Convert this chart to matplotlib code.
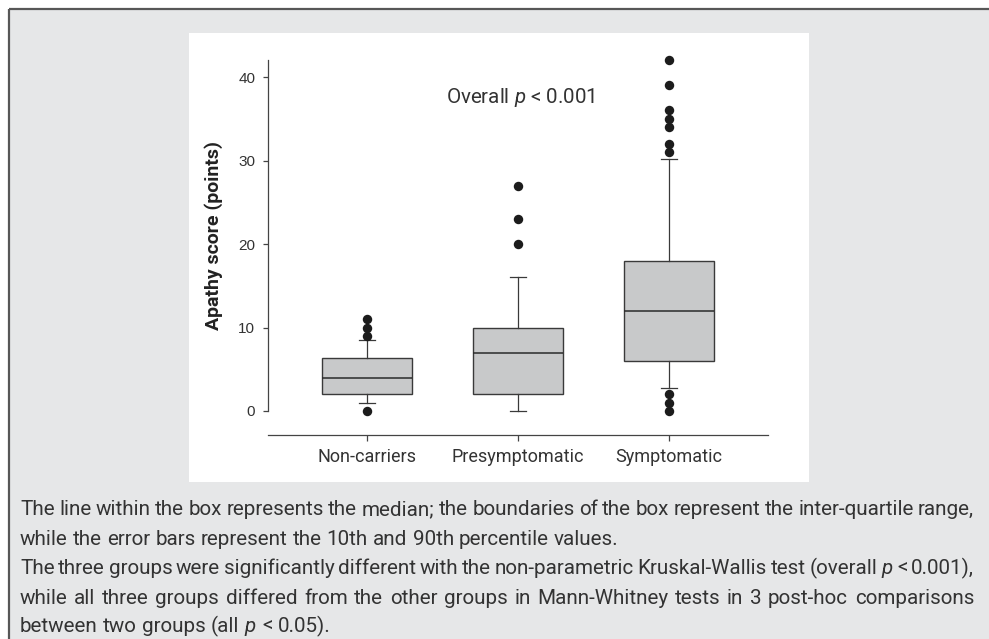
import matplotlib.pyplot as plt
from matplotlib.lines import Line2D
from matplotlib.patches import Rectangle

W, H = 989, 639
DPI = 100

GROUPS = ["Non-carriers", "Presymptomatic", "Symptomatic"]
Q1 = [2.0, 2.0, 6.0]
MEDIAN = [4.0, 7.0, 12.0]
Q3 = [6.3, 10.0, 18.0]
P10 = [1.0, 0.0, 2.8]
P90 = [8.5, 16.0, 30.2]
OUTLIERS = [
    [0, 9, 10, 11],
    [20, 23, 27],
    [0, 1, 2, 31, 32, 34, 35, 36, 39, 42],
]
YTICKS = [0, 10, 20, 30, 40]

CAPTION = [
    ("The line within the box represents the median; the boundaries of the box represent the inter-quartile range,", True),
    ("while the error bars represent the 10th and 90th percentile values.", False),
    ("The three groups were significantly different with the non-parametric Kruskal-Wallis test (overall $p$ < 0.001),", True),
    ("while all three groups differed from the other groups in Mann-Whitney tests in 3 post-hoc comparisons", True),
    ("between two groups (all $p$ < 0.05).", False),
]

plt.rcParams["font.family"] = ["Roboto", "DejaVu Sans"]
plt.rcParams["mathtext.fontset"] = "custom"
plt.rcParams["mathtext.rm"] = "Roboto"
plt.rcParams["mathtext.it"] = "Roboto:italic"

TXT = "#333333"


def px(x, y):
    # pixel coords (top-left origin) -> figure fraction
    return x / W, 1 - y / H


def main() -> None:
    fig = plt.figure(figsize=(W / DPI, H / DPI), dpi=DPI, facecolor="white")

    # grey frame with dark rule on top and left
    bg = fig.add_axes([0, 0, 1, 1], zorder=-10)
    bg.set_xlim(0, W)
    bg.set_ylim(H, 0)
    bg.set_axis_off()
    bg.add_patch(Rectangle((9, 9), W - 9, H - 9, facecolor="#e6e7e8", edgecolor="none"))
    bg.add_line(Line2D([9, W], [9, 9], color="#575757", lw=1.6, solid_capstyle="butt"))
    bg.add_line(Line2D([9, 9], [9, H], color="#575757", lw=1.6, solid_capstyle="butt"))
    bg.add_patch(Rectangle((189, 33), 620, 449, facecolor="white", edgecolor="none"))

    # box plot
    y0_px, px_per_unit = 411.0, 8.35
    ax_bottom_px, ax_top_px = 435.0, 60.3
    ax_left_px, ax_right_px = 268.0, 768.0
    ax = fig.add_axes([
        ax_left_px / W,
        1 - ax_bottom_px / H,
        (ax_right_px - ax_left_px) / W,
        (ax_bottom_px - ax_top_px) / H,
    ])
    ax.patch.set_visible(False)

    stats = []
    for i, g in enumerate(GROUPS):
        stats.append({
            "label": g,
            "q1": Q1[i],
            "med": MEDIAN[i],
            "q3": Q3[i],
            "whislo": P10[i],
            "whishi": P90[i],
            "fliers": OUTLIERS[i],
        })

    edge = "#3a3a3a"
    ax.bxp(
        stats,
        positions=[1, 2, 3],
        widths=0.6,
        capwidths=0.1,
        patch_artist=True,
        boxprops=dict(facecolor="#c8c9ca", edgecolor=edge, linewidth=1.0),
        medianprops=dict(color="#2a2a2a", linewidth=1.1),
        whiskerprops=dict(color=edge, linewidth=0.9),
        capprops=dict(color=edge, linewidth=0.9),
        flierprops=dict(marker="o", markerfacecolor="#1c1c1c", markeredgecolor="none",
                        markersize=6.8, clip_on=False),
    )
    for line in ax.lines:
        line.set_clip_on(False)

    ax.set_xlim(0.344, 3.656)
    ax.set_ylim(-(ax_bottom_px - y0_px) / px_per_unit, (y0_px - ax_top_px) / px_per_unit)

    for s in ["top", "right"]:
        ax.spines[s].set_visible(False)
    ax.spines["left"].set_bounds(0, 42)
    for s in ["left", "bottom"]:
        ax.spines[s].set_color("#444444")
        ax.spines[s].set_linewidth(0.9)

    ax.set_yticks(YTICKS)
    ax.set_yticklabels([str(v) for v in YTICKS], family="Liberation Sans", fontsize=11, color=TXT)
    ax.tick_params(axis="y", length=3.6, width=0.9, pad=5.5, color="#444444")
    ax.set_xticks([1, 2, 3])
    ax.set_xticklabels(GROUPS, fontsize=13, color=TXT)
    ax.tick_params(axis="x", length=4, width=0.9, pad=5, color="#444444")

    fig.text(*px(214, 235), "Apathy score (points)", rotation=90, ha="center", va="center",
             fontsize=14, fontweight="bold", color="#222222")
    ax.text(2.02, 37.6, r"Overall $p$ < 0.001", ha="center", va="center", fontsize=14.8, color=TXT)

    # justified caption
    fig.canvas.draw()
    renderer = fig.canvas.get_renderer()
    left, right = 20.0, 974.0
    baselines = [515, 545, 574, 604, 632]

    def width_of(s, size):
        t = fig.text(0, 0, s, fontsize=size)
        w = t.get_window_extent(renderer).width
        t.remove()
        return w

    # pick a size so the tightest justified line fits with normal spaces
    base = 12.0
    words3 = CAPTION[2][0].split(" ")
    sp = width_of("n n", base) - width_of("nn", base)
    nat = sum(width_of(w, base) for w in words3) + sp * (len(words3) - 1)
    size = base * (right - left) / nat * 1.02

    space = width_of("n n", size) - width_of("nn", size)
    for (line, justify), yb in zip(CAPTION, baselines):
        words = line.split(" ")
        widths = [width_of(w, size) for w in words]
        if justify:
            gap = (right - left - sum(widths)) / (len(words) - 1)
        else:
            gap = space
        x = left
        for w, wd in zip(words, widths):
            fig.text(*px(x, yb), w, fontsize=size, color=TXT, ha="left", va="baseline")
            x += wd + gap

    fig.savefig("out.png", dpi=DPI, facecolor="white")


if __name__ == "__main__":
    main()
